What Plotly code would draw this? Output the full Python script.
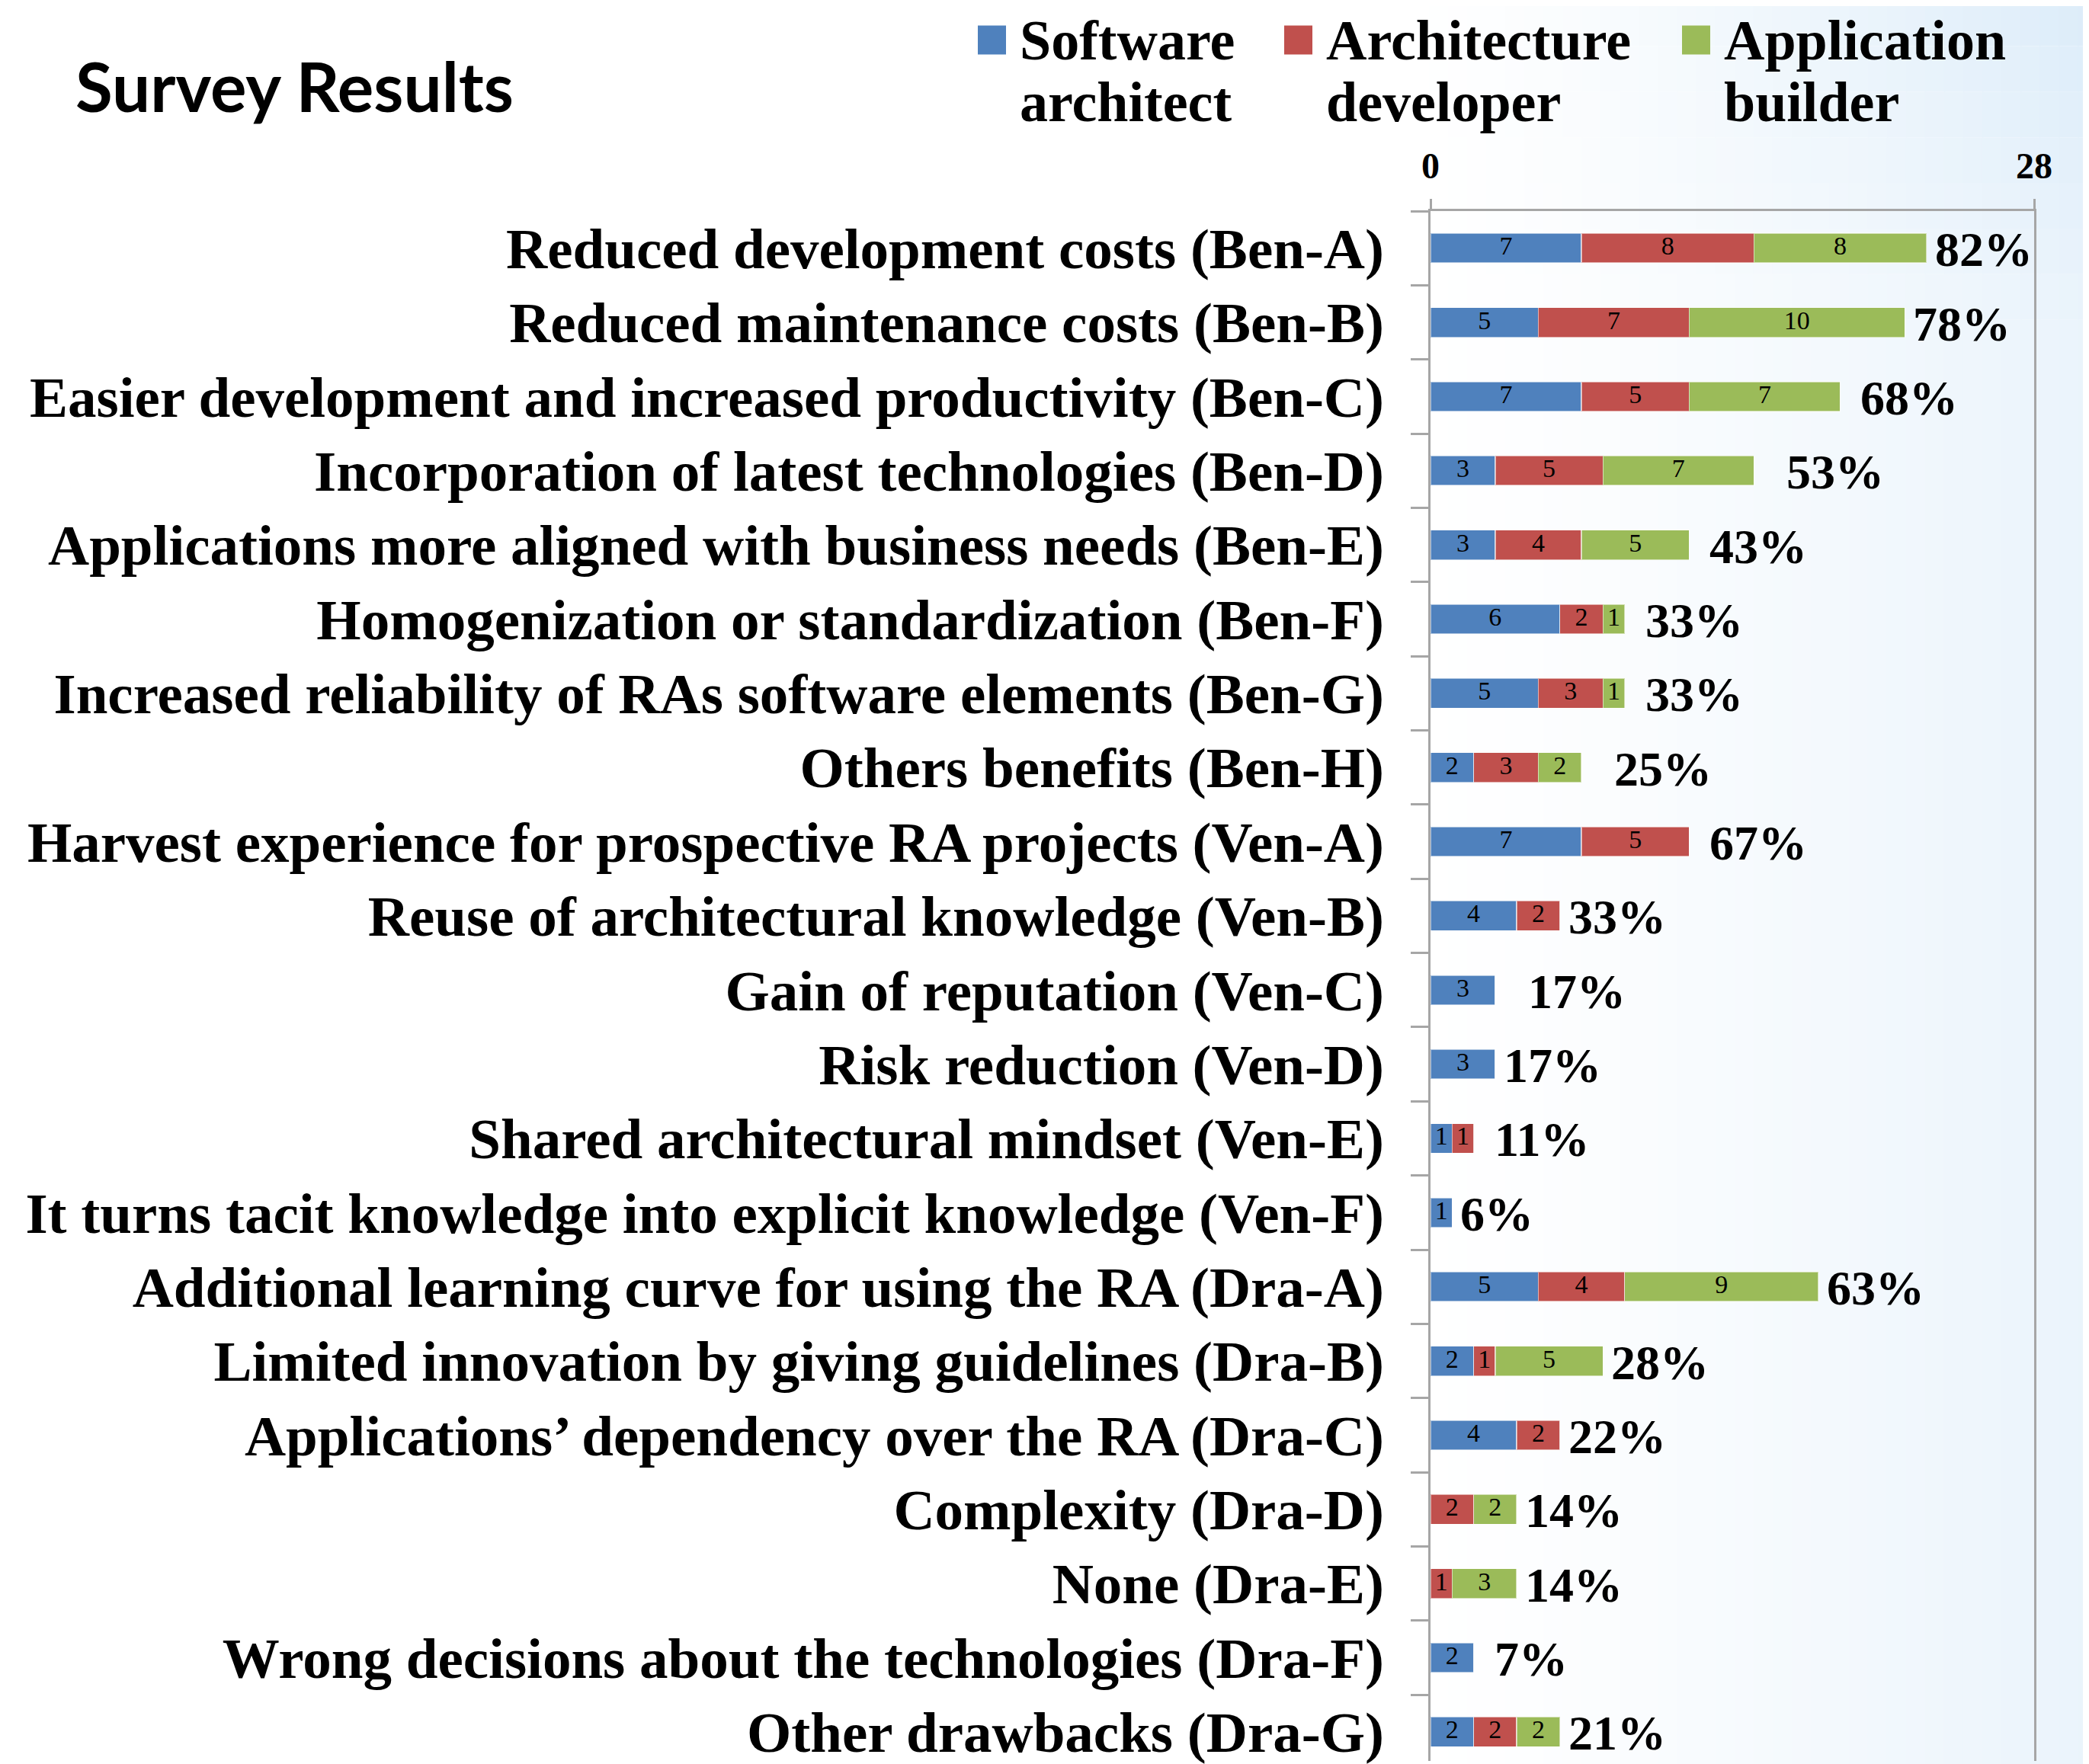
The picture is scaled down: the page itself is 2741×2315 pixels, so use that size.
import plotly.graph_objects as go

categories = [
    "Reduced development costs (Ben-A)",
    "Reduced maintenance costs (Ben-B)",
    "Easier development and increased productivity (Ben-C)",
    "Incorporation of latest technologies (Ben-D)",
    "Applications more aligned with business needs (Ben-E)",
    "Homogenization or standardization (Ben-F)",
    "Increased reliability of RAs software elements (Ben-G)",
    "Others benefits (Ben-H)",
    "Harvest experience for prospective RA projects (Ven-A)",
    "Reuse of architectural knowledge (Ven-B)",
    "Gain of reputation (Ven-C)",
    "Risk reduction (Ven-D)",
    "Shared architectural mindset (Ven-E)",
    "It turns tacit knowledge into explicit knowledge (Ven-F)",
    "Additional learning curve for using the RA (Dra-A)",
    "Limited innovation by giving guidelines (Dra-B)",
    "Applications\u2019 dependency over the RA (Dra-C)",
    "Complexity (Dra-D)",
    "None (Dra-E)",
    "Wrong decisions about the technologies (Dra-F)",
    "Other drawbacks (Dra-G)",
]
software_architect = [7, 5, 7, 3, 3, 6, 5, 2, 7, 4, 3, 3, 1, 1, 5, 2, 4, 0, 0, 2, 2]
architecture_developer = [8, 7, 5, 5, 4, 2, 3, 3, 5, 2, 0, 0, 1, 0, 4, 1, 2, 2, 1, 0, 2]
application_builder = [8, 10, 7, 7, 5, 1, 1, 2, 0, 0, 0, 0, 0, 0, 9, 5, 0, 2, 3, 0, 2]
percent_labels = ["82%", "78%", "\u00a068%", "\u00a0\u00a053%", "\u00a043%", "\u00a033%", "\u00a033%",
                  "\u00a0\u00a025%", "\u00a067%", "33%", "\u00a0\u00a017%", "17%", "\u00a011%", "6%",
                  "63%", "28%", "22%", "14%", "14%", "\u00a07%", "21%"]
series_names = ["Software<br>architect", "Architecture<br>developer", "Application<br>builder"]
series_colors = ["#4F81BD", "#C0504D", "#9BBB59"]
x_ticks = [0, 28]

W, H = 2741, 2315
OFF = 8  # page body margin offset
SX0, SX1, SY0, SY1 = 1877, 2669, 277, 2315
L = SX0 - OFF
R = W - (SX1 - OFF)
T = SY0 - OFF
B = H - (SY1 - OFF)
PW, PH = W - L - R, H - T - B
ROW = 97.55
n = len(categories)
y_idx = list(range(n))
y_bottom = -0.5 + PH / ROW


def fx(px):  # screen px -> paper
    return (px - OFF - L) / PW


def fy(py):
    return 1 - (py - OFF - T) / PH


SERIF = "Liberation Serif, Times New Roman, serif"
GRAY = "#A6A6A6"

fig = go.Figure()
series_vals = [software_architect, architecture_developer, application_builder]
base = [0] * n
for name, vals, col in zip(series_names, series_vals, series_colors):
    fig.add_trace(go.Bar(
        y=y_idx, x=vals, orientation="h", width=0.4, name=name,
        marker=dict(color=col, line=dict(width=1.5, color="rgba(255,255,255,0.55)")),
        showlegend=False, hoverinfo="x+y",
    ))
    tx, ty, tt = [], [], []
    for i, v in enumerate(vals):
        if v:
            tx.append(base[i] + v / 2)
            ty.append(i)
            tt.append(str(v))
        base[i] += v
    fig.add_trace(go.Scatter(
        x=tx, y=ty, text=tt, mode="text", textposition="middle center",
        textfont=dict(family=SERIF, size=34, color="black"),
        showlegend=False, hoverinfo="skip", cliponaxis=False,
    ))

totals = base
annotations = []
for i, (t, lab) in enumerate(zip(totals, percent_labels)):
    annotations.append(dict(x=t, y=i, xref="x", yref="y", text="<b>%s</b>" % lab, showarrow=False,
                            xanchor="left", yanchor="middle", xshift=9, yshift=-2,
                            font=dict(family=SERIF, size=64, color="black")))

# title
annotations.append(dict(x=fx(97), y=fy(112), xref="paper", yref="paper", text="<b>Survey Results</b>",
                        showarrow=False, xanchor="left", yanchor="middle",
                        font=dict(family="Lato, Open Sans, sans-serif", size=89, color="black")))

shapes = []
# background gradient (white -> light blue toward the right, stronger at the top)
BLUE = (220, 236, 249)
xs0, nx = 1750, 40
ybands = [(-20, 60), (60, 120), (120, 180), (180, 240), (240, 300), (300, 360), (360, 420), (420, 2340)]
for k in range(nx):
    a = xs0 + (W + 10 - xs0) * k / nx
    b = xs0 + (W + 10 - xs0) * (k + 1) / nx
    xc = (a + b) / 2
    gx = max(0.0, (xc - 1850) / (2741 - 1850)) ** 1.3
    for (ya, yb) in ybands:
        yc = (ya + min(yb, 500)) / 2
        gy = 0.6 + 0.4 * max(0.0, (420 - yc) / 420)
        f = min(1.0, gx * gy)
        col = tuple(int(round(255 - (255 - c) * f)) for c in BLUE)
        shapes.append(dict(type="rect", xref="paper", yref="paper", x0=fx(a), x1=fx(b) + 0.002,
                           y0=fy(yb), y1=fy(ya), fillcolor="rgb(%d,%d,%d)" % col,
                           line=dict(width=0), layer="below"))

# legend (manual)
leg_x = [1283, 1685, 2207]
for (lx, name, col) in zip(leg_x, series_names, series_colors):
    shapes.append(dict(type="rect", xref="paper", yref="paper", x0=fx(lx), x1=fx(lx + 37),
                       y0=fy(71), y1=fy(33), fillcolor=col, line=dict(width=0)))
    l1, l2 = name.split("<br>")
    annotations.append(dict(x=fx(lx + 53), y=fy(OFF + 1), xref="paper", yref="paper",
                            text="<b>%s</b>" % l1, showarrow=False, xanchor="left", yanchor="top",
                            font=dict(family=SERIF, size=74, color="black")))
    annotations.append(dict(x=fx(lx + 53), y=fy(134), xref="paper", yref="paper",
                            text="<b>%s</b>" % l2, showarrow=False, xanchor="left", yanchor="middle",
                            font=dict(family=SERIF, size=74, color="black")))

fig.update_layout(
    width=W, height=H,
    margin=dict(l=L, r=R, t=T, b=B, pad=0),
    barmode="stack",
    paper_bgcolor="white", plot_bgcolor="rgba(0,0,0,0)",
    showlegend=False,
    annotations=annotations, shapes=shapes,
    xaxis=dict(side="top", range=[0, 28], tickmode="array", tickvals=x_ticks,
               ticktext=["<b>%d</b>" % v for v in x_ticks],
               ticks="outside", ticklen=13, tickwidth=3, tickcolor=GRAY,
               showline=True, linecolor=GRAY, linewidth=3, showgrid=False, zeroline=False,
               tickfont=dict(family=SERIF, size=48, color="black"), ticklabelstandoff=8),
    yaxis=dict(range=[y_bottom, -0.5], tickmode="array", tickvals=y_idx,
               ticktext=["<b>%s</b>" % c for c in categories],
               ticks="", showline=True, linecolor=GRAY, linewidth=3, mirror=True,
               showgrid=False, zeroline=False, ticklabelstandoff=43, ticklabeloverflow="allow",
               tickfont=dict(family=SERIF, size=75, color="black"),
               minor=dict(tickmode="array", tickvals=[i - 0.5 for i in range(n + 1)], ticks="outside",
                          ticklen=23, tickwidth=3, tickcolor=GRAY, showgrid=False)),
    font=dict(family=SERIF),
)

fig.write_html("out.html")
